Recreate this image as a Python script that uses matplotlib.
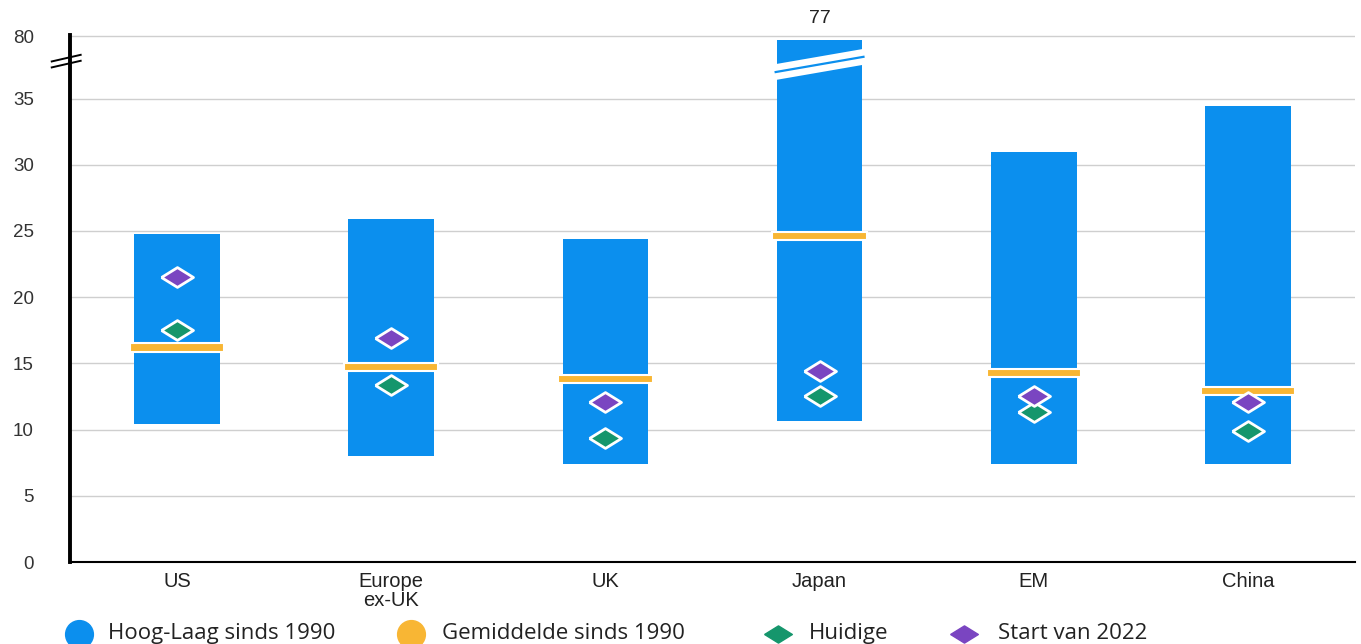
import matplotlib
matplotlib.use("Agg")
import matplotlib.pyplot as plt
from matplotlib.patches import Polygon
from matplotlib.lines import Line2D
import numpy as np

categories = ["US", "Europe\nex-UK", "UK", "Japan", "EM", "China"]
high = [24.8, 25.9, 24.4, 77, 31.0, 34.4]
low = [10.4, 8.0, 7.4, 10.65, 7.4, 7.4]
average = [16.2, 14.7, 13.8, 24.6, 14.3, 12.9]
current = [17.5, 13.4, 9.4, 12.5, 11.3, 9.9]
start2022 = [21.5, 16.9, 12.1, 14.4, 12.5, 12.1]
ytick_vals = [0, 5, 10, 15, 20, 25, 30, 35, 80]

BREAK = 35.0


def tr(v):
    v = np.asarray(v, dtype=float)
    return np.where(v <= BREAK, v, BREAK + (v - BREAK) * (4.7 / 45.0))


BLUE = "#0B8FEE"
ORANGE = "#F8B634"
GREEN = "#15966C"
PURPLE = "#7A45C1"

plt.rcParams["font.family"] = ["Liberation Sans", "DejaVu Sans"]
fig = plt.figure(figsize=(13.61, 6.44), dpi=100)
ax = fig.add_axes([0.0514, 0.1273, 0.9442, 0.8184])

x = np.arange(len(categories))
hi_t = tr(high)
lo_t = tr(low)
ax.bar(x, hi_t - lo_t, bottom=lo_t, width=0.40, color=BLUE, zorder=2)
ax.bar(x, 0.62, bottom=np.array(average) - 0.31, width=0.44, color=ORANGE,
       edgecolor="white", linewidth=1.5, zorder=3)

dia = [(-1, 0), (0, 0.62), (1, 0), (0, -0.62), (-1, 0)]
ax.plot(x, current, linestyle="none", marker=dia, markersize=23, color=GREEN,
        markeredgecolor="white", markeredgewidth=2, zorder=4)
ax.plot(x, start2022, linestyle="none", marker=dia, markersize=23, color=PURPLE,
        markeredgecolor="white", markeredgewidth=2, zorder=4)

# break on Japan bar
j = categories.index("Japan")
xl, xr = j - 0.205, j + 0.205
ax.add_patch(Polygon([(xl, 36.4), (xr, 37.55), (xr, 38.75), (xl, 37.6)],
                     closed=True, facecolor="white", edgecolor="none", zorder=5))
ax.plot([xl, xr], [37.0, 38.15], color=BLUE, lw=1.6, zorder=6)
ax.text(j, 40.4, f"{high[j]:g}", ha="center", va="bottom",
        fontsize=14, color="#222222")

ax.set_xlim(-0.5, 5.5)
ax.set_ylim(0, 39.8)
ax.set_yticks(tr(ytick_vals))
ax.set_yticklabels([str(v) for v in ytick_vals], fontsize=13.5, color="#333333")
ax.set_xticks(x)
ax.set_xticklabels(categories, fontsize=14.5, color="#222222", linespacing=1.0)
ax.tick_params(axis="both", length=0, pad=7)
ax.tick_params(axis="y", pad=26)
ax.yaxis.grid(True, color="#cfcfcf", linewidth=1)
ax.set_axisbelow(True)
for s in ["top", "right"]:
    ax.spines[s].set_visible(False)
ax.spines["left"].set_linewidth(2.8)
ax.spines["bottom"].set_linewidth(1.5)
ax.spines["left"].set_color("black")
ax.spines["bottom"].set_color("black")

# axis break marks
for dy in (0, 0.45):
    ax.plot([-0.585, -0.45], [37.35 + dy, 37.85 + dy], color="black", lw=1.4,
            clip_on=False, zorder=6, transform=ax.transData)

# legend (manual)
ly = 0.016
items = [
    (0.058, "o", BLUE, 20, None, "Hoog-Laag sinds 1990", 0.079),
    (0.302, "o", ORANGE, 20, None, "Gemiddelde sinds 1990", 0.325),
    (0.572, dia, GREEN, 20, None, "Huidige", 0.594),
    (0.708, dia, PURPLE, 20, None, "Start van 2022", 0.733),
]
for mx, mk, col, ms, _, label, tx in items:
    fig.add_artist(Line2D([mx], [ly], marker=mk, markersize=ms, color=col,
                          linestyle="none", transform=fig.transFigure))
    fig.text(tx, ly, label, fontsize=16, va="center", ha="left",
             family=["Open Sans", "DejaVu Sans"], color="#222222")

fig.savefig("out.png", dpi=100)
